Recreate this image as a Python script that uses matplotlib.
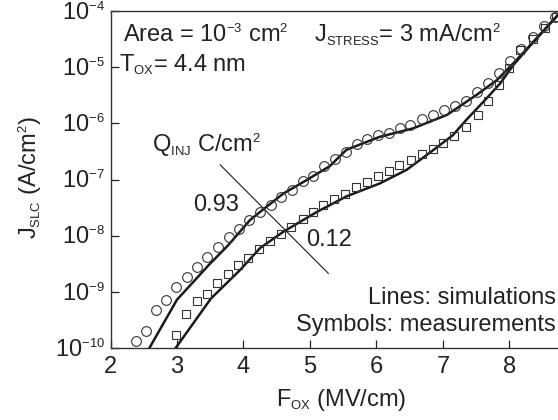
import numpy as np
import matplotlib
matplotlib.use("Agg")
import matplotlib.pyplot as plt
import matplotlib._mathtext as _mt

_mt.SHRINK_FACTOR = 0.55

plt.rcParams['font.family'] = ['Liberation Sans', 'DejaVu Sans']
plt.rcParams['mathtext.fontset'] = 'custom'
plt.rcParams['mathtext.rm'] = 'Liberation Sans'
plt.rcParams['mathtext.it'] = 'Liberation Sans:italic'
plt.rcParams['mathtext.bf'] = 'Liberation Sans:bold'
plt.rcParams['mathtext.default'] = 'regular'

# ---- data (log10 of J_SLC in A/cm^2) ----
meas_hi_f = [2.385, 2.54, 2.68, 2.83, 2.985, 3.15, 3.305, 3.455, 3.615, 3.78,
             3.935, 4.09, 4.25, 4.42, 4.57, 4.73, 4.89, 5.05, 5.21, 5.38,
             5.54, 5.70, 5.86, 6.03, 6.19, 6.35, 6.51, 6.69, 6.85, 7.02,
             7.18, 7.35, 7.51, 7.67, 7.85, 8.01, 8.17, 8.36, 8.52, 8.68]
meas_hi_logj = [-9.88, -9.69, -9.32, -9.14, -8.92, -8.74, -8.56, -8.38, -8.20, -8.03,
                -7.88, -7.72, -7.58, -7.45, -7.32, -7.18, -7.03, -6.93, -6.76, -6.64,
                -6.51, -6.37, -6.28, -6.21, -6.17, -6.09, -6.03, -5.92, -5.85, -5.76,
                -5.69, -5.61, -5.45, -5.28, -5.10, -4.89, -4.68, -4.47, -4.27, -4.11]

meas_lo_f = [2.98, 3.14, 3.30, 3.45, 3.60, 3.77, 3.92, 4.07, 4.23, 4.40,
             4.56, 4.72, 4.89, 5.05, 5.20, 5.36, 5.53, 5.69, 5.86, 6.03,
             6.19, 6.34, 6.52, 6.68, 6.85, 7.00, 7.17, 7.35, 7.52, 7.68,
             7.84, 8.00, 8.16, 8.36, 8.53, 8.70]
meas_lo_logj = [-9.77, -9.40, -9.17, -9.04, -8.85, -8.69, -8.53, -8.39, -8.24, -8.10,
                -7.97, -7.85, -7.71, -7.57, -7.46, -7.35, -7.25, -7.14, -7.04, -6.93,
                -6.84, -6.75, -6.66, -6.54, -6.46, -6.35, -6.22, -6.07, -5.85, -5.60,
                -5.32, -5.02, -4.70, -4.49, -4.31, -4.10]

sim_hi_f = [2.585, 3.0, 3.48, 3.77, 4.10, 4.32, 4.60, 4.95, 5.30, 5.55,
            6.05, 6.55, 7.06, 7.51, 7.81, 8.06, 8.36, 8.73]
sim_hi_logj = [-10.0, -9.14, -8.52, -8.17, -7.72, -7.51, -7.25, -7.01, -6.76, -6.47,
               -6.24, -6.09, -5.85, -5.49, -5.23, -4.93, -4.55, -4.07]

sim_lo_f = [2.98, 3.51, 3.95, 4.25, 4.60, 5.10, 5.55, 6.05, 6.45, 6.60,
            6.85, 7.15, 7.35, 7.66, 7.86, 8.06, 8.36, 8.73]
sim_lo_logj = [-10.0, -9.12, -8.61, -8.22, -7.93, -7.58, -7.30, -7.07, -6.83, -6.70,
               -6.48, -6.21, -5.94, -5.55, -5.29, -4.96, -4.55, -4.07]

qinj_line_f = [3.65, 5.275]
qinj_line_logj = [-6.74, -8.67]

x_ticks = [2, 3, 4, 5, 6, 7, 8]
y_exps = [-10, -9, -8, -7, -6, -5, -4]

# ---- figure ----
W, H = 558, 420
fig = plt.figure(figsize=(W / 100, H / 100), dpi=100)
left_px, right_px, top_px, bot_px = 110.5, 558, 11, 348
ax = fig.add_axes([left_px / W, 1 - bot_px / H, (right_px - left_px) / W, (bot_px - top_px) / H])

FS = 17
lc = '#1a1a1a'
mc = '#333333'
ax.plot(sim_hi_f, 10 ** np.array(sim_hi_logj), color=lc, lw=1.8, zorder=3)
ax.plot(sim_lo_f, 10 ** np.array(sim_lo_logj), color=lc, lw=1.8, zorder=3)
ax.plot(meas_hi_f, 10 ** np.array(meas_hi_logj), ls='none', marker='o', ms=7,
        mfc='none', mec=mc, mew=0.8, zorder=4)
ax.plot(meas_lo_f, 10 ** np.array(meas_lo_logj), ls='none', marker='s', ms=6,
        mfc='none', mec=mc, mew=0.8, zorder=4)
ax.plot(qinj_line_f, 10 ** np.array(qinj_line_logj), color=lc, lw=0.8, zorder=2)

ax.set_yscale('log')
ax.set_xlim(2, 8.73)
ax.set_ylim(1e-10, 1e-4)
ax.set_xticks(x_ticks)
ax.set_xticklabels([str(v) for v in x_ticks])
ax.set_yticks([10.0 ** e for e in y_exps])
ax.set_yticklabels([r'$10^{%d}$' % e for e in y_exps])
ax.yaxis.set_minor_locator(matplotlib.ticker.NullLocator())

ax.tick_params(axis='both', direction='in', length=6, width=0.9, colors='#222222',
               labelsize=FS)
ax.tick_params(axis='x', pad=6)
ax.tick_params(axis='y', pad=4)
for s in ['left', 'bottom', 'top']:
    ax.spines[s].set_color('#333333')
    ax.spines[s].set_linewidth(1.0)
ax.spines['right'].set_visible(False)

ax.set_xlabel(r'F$_{OX}$ (MV/cm)', fontsize=FS, va='center', color='#222222')
ax.xaxis.set_label_coords(0.515, -0.154)
ax.set_ylabel(r'J$_{SLC}$ (A/cm$^{2}$)', fontsize=FS, va='center', color='#222222')
ax.yaxis.set_label_coords(-0.18, 0.507)

tc = '#222222'
ax.text(0.028, 0.929, r'Area = 10$^{-3}$ cm$^{2}$    J$_{STRESS}$= 3 mA/cm$^{2}$',
        transform=ax.transAxes, fontsize=FS, va='center', ha='left', color=tc)
ax.text(0.019, 0.84, r'T$_{OX}$= 4.4 nm', transform=ax.transAxes, fontsize=FS,
        va='center', ha='left', color=tc)
ax.text(0.093, 0.602, r'Q$_{INJ}$ C/cm$^{2}$', transform=ax.transAxes, fontsize=FS,
        va='center', ha='left', color=tc)
ax.text(0.235, 0.424, '0.93', transform=ax.transAxes, fontsize=FS,
        va='center', ha='center', color=tc)
ax.text(0.489, 0.320, '0.12', transform=ax.transAxes, fontsize=FS,
        va='center', ha='center', color=tc)
ax.text(0.995, 0.148, 'Lines: simulations', transform=ax.transAxes, fontsize=FS,
        va='center', ha='right', color=tc)
ax.text(0.995, 0.068, 'Symbols: measurements', transform=ax.transAxes, fontsize=FS,
        va='center', ha='right', color=tc)

fig.savefig('out.png', dpi=100)
